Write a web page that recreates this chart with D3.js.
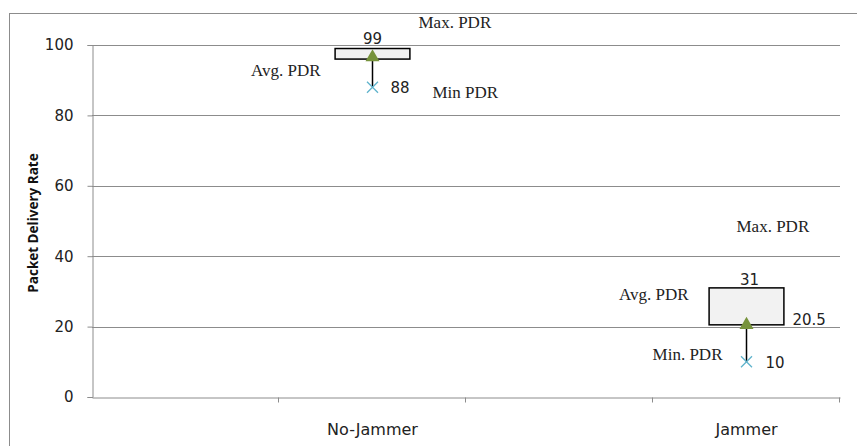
<!DOCTYPE html>
<html>
<head>
<meta charset="utf-8">
<script src="https://cdn.jsdelivr.net/npm/d3@7"></script>
<style>
  body { margin: 0; background: #fff; }
  svg { display: block; }
</style>
</head>
<body>
<div id="chart"></div>
<script>
// categories on the x axis (two blank slots, like the original sheet)
const categories = ["", "No-Jammer", " ", "Jammer"]
const groups = ["No-Jammer", "Jammer"]
const boxLow = [96, 20.5]
const boxHigh = [99, 31]
const avgPdr = [96.5, 20.5]
const minPdr = [88, 10]
const yTicks = [0, 20, 40, 60, 80, 100]

const width = 857
const height = 446
const plot = { left: 92, right: 840, top: 45, bottom: 397 }
const sans = 'DejaVu Sans'

const svg = d3.select('#chart')
    .append('svg')
    .attr('width', width)
    .attr('height', height)

// outer frame, runs off the right and bottom edge
svg.append('rect')
    .attr('x', 9.5).attr('y', 13.5)
    .attr('width', 900).attr('height', 500)
    .attr('fill', 'none').attr('stroke', '#8c8c8c')

const x = d3.scaleBand().domain(categories).range([plot.left, plot.right])
const y = d3.scaleLinear().domain([0, 100]).range([plot.bottom, plot.top])

// grid
svg.append('g')
    .selectAll('line')
    .data(yTicks.filter(d => d > 0))
    .enter().append('line')
    .attr('x1', plot.left).attr('x2', plot.right)
    .attr('y1', d => Math.round(y(d)) + 0.5).attr('y2', d => Math.round(y(d)) + 0.5)
    .attr('stroke', '#8c8c8c')

// y axis
const yAxis = svg.append('g')
    .attr('transform', `translate(${plot.left + 0.5},0)`)
    .call(d3.axisLeft(y).tickValues(yTicks).tickSize(5).tickPadding(14))
yAxis.selectAll('path, line').attr('stroke', '#8c8c8c')
yAxis.selectAll('text')
    .style('font-family', sans).style('font-size', '15px').attr('fill', '#222')

// x axis: labels in the middle of a slot, ticks on the slot edges
const xAxis = svg.append('g')
    .attr('transform', `translate(0,${Math.round(y(0)) + 0.5})`)
    .call(d3.axisBottom(x).tickSize(0).tickPadding(26))
xAxis.select('path').attr('stroke', '#8c8c8c')
xAxis.selectAll('text')
    .style('font-family', sans).style('font-size', '16px').attr('fill', '#222')
xAxis.selectAll('.edge')
    .data(categories)
    .enter().append('line')
    .attr('class', 'edge')
    .attr('x1', d => Math.round(x(d) + x.bandwidth()) - 0.5)
    .attr('x2', d => Math.round(x(d) + x.bandwidth()) - 0.5)
    .attr('y1', 0).attr('y2', 5)
    .attr('stroke', '#8c8c8c')

svg.append('text')
    .attr('transform', `translate(38,${(plot.top + plot.bottom) / 2 + 2}) rotate(-90)`)
    .attr('text-anchor', 'middle')
    .style('font-family', 'Open Sans').style('font-size', '13.5px').style('font-weight', 'bold')
    .attr('fill', '#111')
    .text('Packet Delivery Rate')

const cx = g => x(g) + x.bandwidth() / 2
const boxW = x.bandwidth() * 0.4

const marks = svg.append('g')
groups.forEach((g, i) => {
    // line from average down to minimum
    marks.append('line')
        .attr('x1', cx(g)).attr('x2', cx(g))
        .attr('y1', y(avgPdr[i])).attr('y2', y(minPdr[i]))
        .attr('stroke', '#000').attr('stroke-width', 1.5)
    marks.append('rect')
        .attr('x', cx(g) - boxW / 2).attr('y', y(boxHigh[i]))
        .attr('width', boxW).attr('height', y(boxLow[i]) - y(boxHigh[i]))
        .attr('fill', '#f2f2f2').attr('stroke', '#000').attr('stroke-width', 1.5)
    marks.append('path')
        .attr('transform', `translate(${cx(g)},${y(avgPdr[i])})`)
        .attr('d', d3.symbol(d3.symbolTriangle, 85)())
        .attr('fill', '#77933c')
    marks.append('path')
        .attr('transform', `translate(${cx(g)},${y(minPdr[i])})`)
        .attr('d', 'M-5.5,-5.5L5.5,5.5M-5.5,5.5L5.5,-5.5')
        .attr('stroke', '#5fb3cc').attr('stroke-width', 1.3)
})

// value labels
const num = (t, px, py, anchor) => svg.append('text')
    .attr('x', px).attr('y', py).attr('text-anchor', anchor || 'start')
    .style('font-family', sans).style('font-size', '15px').attr('fill', '#222')
    .text(t)
num(boxHigh[0], cx(groups[0]), y(boxHigh[0]) - 5, 'middle')
num(minPdr[0], cx(groups[0]) + 18, y(minPdr[0]) + 6)
num(boxHigh[1], cx(groups[1]) + 3, y(boxHigh[1]) - 3, 'middle')
num(boxLow[1], cx(groups[1]) + 46, y(boxLow[1]))
num(minPdr[1], cx(groups[1]) + 19, y(minPdr[1]) + 6)

// free text notes
const note = (t, px, py, anchor) => svg.append('text')
    .attr('x', px).attr('y', py).attr('text-anchor', anchor || 'start')
    .style('font-family', 'Liberation Serif').style('font-size', '17px').attr('fill', '#222')
    .text(t)
note('Max. PDR', cx(groups[0]) + 46, 28)
note('Avg. PDR', cx(groups[0]) - 52, 76, 'end')
note('Min PDR', cx(groups[0]) + 60, 98)
note('Max. PDR', cx(groups[1]) - 10, 232)
note('Avg. PDR', cx(groups[1]) - 58, 300, 'end')
note('Min. PDR', cx(groups[1]) - 24, 360, 'end')
</script>
</body>
</html>
